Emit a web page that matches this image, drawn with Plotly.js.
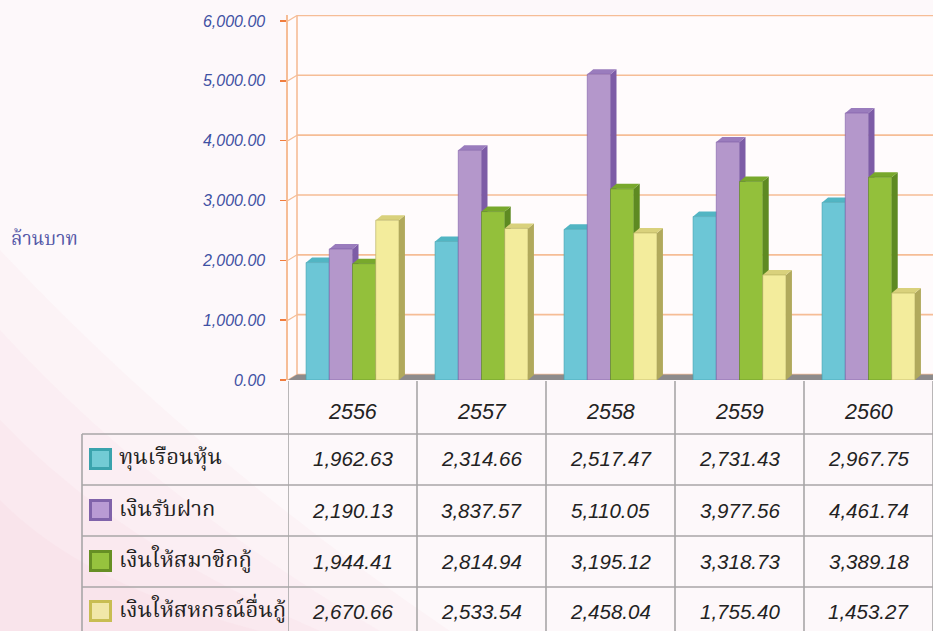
<!DOCTYPE html>
<html>
<head>
<meta charset="utf-8">
<script src="https://cdn.plot.ly/plotly-3.0.1.min.js"></script>
<style>html,body{margin:0;padding:0;background:#fdf7f9;}#chart{width:933px;height:631px;}</style>
</head>
<body>
<div id="chart"></div>
<script>
// ---- data ----
const years = ['2556', '2557', '2558', '2559', '2560'];
const seriesNames = ['ทุนเรือนหุ้น', 'เงินรับฝาก', 'เงินให้สมาชิกกู้', 'เงินให้สหกรณ์อื่นกู้'];
const shareCapital = [1962.63, 2314.66, 2517.47, 2731.43, 2967.75];
const deposits = [2190.13, 3837.57, 5110.05, 3977.56, 4461.74];
const memberLoans = [1944.41, 2814.94, 3195.12, 3318.73, 3389.18];
const coopLoans = [2670.66, 2533.54, 2458.04, 1755.40, 1453.27];
const yTicks = [0, 1000, 2000, 3000, 4000, 5000, 6000];
const yTitle = 'ล้านบาท';

// ---- styles ----
const seriesValues = [shareCapital, deposits, memberLoans, coopLoans];
const frontColors = ['#6cc6d6', '#b497cb', '#93c03b', '#f3ec9c'];
const sideColors = ['#3f9fae', '#7d5ca6', '#5e8a22', '#b1a95c'];
const topColors = ['#52b5c3', '#9a7cbd', '#78a82c', '#d9d17c'];
const legOuter = ['#3aa3ad', '#8063aa', '#668f24', '#c8bd52'];
const legInner = ['#72cbd5', '#b99bd4', '#96c33e', '#f1e7a8'];

const W = 933, H = 631;
const PL = 288, PT = 15, PW = 645, PH = 365;
const YMAX = 6100;
const pxY = PH / YMAX;           // px per unit
const pxX = PW / 5;              // px per category
const px2paperX = px => (px - PL) / PW;
const px2paperY = py => (PT + PH - py) / PH;

const bargap = 0.28;
const barW = (1 - bargap) / 4;
const dxB = 6 / pxX, dyB = 5 / pxY;      // bar depth
const dxW = 9 / pxX, dyW = 5.5 / pxY;    // wall depth

const shapes = [];
// soft pink tint in the lower-left of the page
[[0, 250, 330, 0.10], [0, 330, 260, 0.12], [0, 420, 200, 0.14], [0, 500, 140, 0.16]].forEach(t => {
  shapes.push({type: 'path', layer: 'below', xref: 'paper', yref: 'paper',
    path: `M ${px2paperX(t[0])} ${px2paperY(631)} L ${px2paperX(t[0])} ${px2paperY(t[1])} Q ${px2paperX(t[2] * 0.6)} ${px2paperY((t[1] + 631) / 2 + 20)} ${px2paperX(t[2] + 120)} ${px2paperY(631)} Z`,
    fillcolor: `rgba(248,205,218,${t[3]})`, line: {width: 0}});
});
// back wall gridlines
yTicks.forEach(v => {
  shapes.push({type: 'line', layer: 'between', xref: 'x', yref: 'y',
    x0: -0.5 + dxW, x1: 4.5, y0: v + dyW, y1: v + dyW,
    line: {color: '#f6bd96', width: 1.6}});
  shapes.push({type: 'line', layer: 'between', xref: 'x', yref: 'y',
    x0: -0.5, x1: -0.5 + dxW, y0: v, y1: v + dyW,
    line: {color: '#f6bd96', width: 1.2}});
});
// back wall left edge
shapes.push({type: 'line', layer: 'between', xref: 'x', yref: 'y',
  x0: -0.5 + dxW, x1: -0.5 + dxW, y0: dyW, y1: 6000 + dyW,
  line: {color: '#f6bd96', width: 1.6}});
// floor
shapes.push({type: 'path', layer: 'between', xref: 'x', yref: 'y',
  path: `M ${-0.5} 0 L 4.5 0 L 4.5 ${dyW} L ${-0.5 + dxW} ${dyW} Z`,
  fillcolor: '#8d8b8c', line: {width: 0}});

// 3D side + top faces for every bar
seriesValues.forEach((vals, s) => {
  vals.forEach((v, c) => {
    const xl = c + (s - 1.5) * barW - barW / 2;
    const xr = xl + barW;
    shapes.push({type: 'path', layer: 'between', xref: 'x', yref: 'y',
      path: `M ${xr} 0 L ${xr + dxB} ${dyB} L ${xr + dxB} ${v + dyB} L ${xr} ${v} Z`,
      fillcolor: sideColors[s], line: {width: 0}});
    shapes.push({type: 'path', layer: 'between', xref: 'x', yref: 'y',
      path: `M ${xl} ${v} L ${xl + dxB} ${v + dyB} L ${xr + dxB} ${v + dyB} L ${xr} ${v} Z`,
      fillcolor: topColors[s], line: {width: 0}});
  });
});

// ---- table ----
const gridCol = '#a8a6a7';
const rowLines = [434, 485, 536, 587];
rowLines.forEach(py => {
  shapes.push({type: 'line', xref: 'paper', yref: 'paper',
    x0: px2paperX(82), x1: 1, y0: px2paperY(py), y1: px2paperY(py),
    line: {color: gridCol, width: 1.6}});
});
for (let i = 0; i <= 5; i++) {
  shapes.push({type: 'line', xref: 'x', yref: 'paper',
    x0: i - 0.5, x1: i - 0.5, y0: px2paperY(381), y1: px2paperY(631),
    line: {color: gridCol, width: 1.6}});
}
shapes.push({type: 'line', xref: 'paper', yref: 'paper',
  x0: px2paperX(82), x1: px2paperX(82), y0: px2paperY(434), y1: px2paperY(631),
  line: {color: gridCol, width: 1.6}});

const rowCenters = [459, 510, 561, 611];
const annotations = [];
const numFont = {family: 'Liberation Sans, Arial, sans-serif', size: 20.5, color: '#222222', style: 'italic'};
const thaiFont = 'Noto Serif Thai, Loma, Garuda, Norasi, DejaVu Serif, serif';
years.forEach((y, c) => {
  annotations.push({xref: 'x', yref: 'paper', x: c, y: px2paperY(412), text: y,
    showarrow: false, xanchor: 'center', yanchor: 'middle',
    font: {family: 'Liberation Sans, Arial, sans-serif', size: 21.5, color: '#222222', style: 'italic'}});
});
seriesValues.forEach((vals, s) => {
  vals.forEach((v, c) => {
    annotations.push({xref: 'x', yref: 'paper', x: c, y: px2paperY(rowCenters[s]),
      text: v.toLocaleString('en-US', {minimumFractionDigits: 2, maximumFractionDigits: 2}),
      showarrow: false, xanchor: 'center', yanchor: 'middle', font: numFont});
  });
  annotations.push({xref: 'paper', yref: 'paper', x: px2paperX(117), y: px2paperY(rowCenters[s]),
    text: seriesNames[s], showarrow: false, xanchor: 'left', yanchor: 'middle',
    font: {family: thaiFont, size: 22, color: '#222222'}});
  const cy = rowCenters[s];
  shapes.push({type: 'rect', xref: 'paper', yref: 'paper',
    x0: px2paperX(89), x1: px2paperX(112), y0: px2paperY(cy - 11), y1: px2paperY(cy + 11),
    fillcolor: legOuter[s], line: {width: 0}});
  shapes.push({type: 'rect', xref: 'paper', yref: 'paper',
    x0: px2paperX(92), x1: px2paperX(109), y0: px2paperY(cy - 8), y1: px2paperY(cy + 8),
    fillcolor: legInner[s], line: {width: 0}});
});
annotations.push({xref: 'paper', yref: 'paper', x: px2paperX(9), y: px2paperY(240),
  text: yTitle, showarrow: false, xanchor: 'left', yanchor: 'middle',
  font: {family: thaiFont, size: 19, color: '#5558a8'}});

const traces = seriesValues.map((vals, s) => ({
  type: 'bar', x: years, y: vals, name: seriesNames[s],
  marker: {color: frontColors[s], line: {color: sideColors[s], width: 0.6}},
  hoverinfo: 'x+y+name'
}));

const layout = {
  width: W, height: H,
  margin: {l: PL, r: W - PL - PW, t: PT, b: H - PT - PH, pad: 0},
  paper_bgcolor: '#fdf8fa', plot_bgcolor: '#fffbfc',
  barmode: 'group', bargap: bargap, bargroupgap: 0,
  showlegend: false,
  xaxis: {type: 'category', range: [-0.5, 4.5], showticklabels: false, showgrid: false,
    zeroline: false, showline: false, ticks: '', fixedrange: true},
  yaxis: {range: [0, YMAX], tickvals: yTicks, tickformat: ',.2f', showgrid: false, zeroline: false,
    showline: true, linecolor: '#f6bd96', linewidth: 1.6,
    ticks: 'outside', ticklen: 6, tickcolor: '#f07d3e', tickwidth: 1.6, ticklabelstandoff: 12,
    tickfont: {family: 'Liberation Sans, Arial, sans-serif', size: 16, color: '#3f51a3', style: 'italic'},
    fixedrange: true},
  shapes: shapes,
  annotations: annotations
};

Plotly.newPlot('chart', traces, layout, {displayModeBar: false, staticPlot: true});
</script>
</body>
</html>
